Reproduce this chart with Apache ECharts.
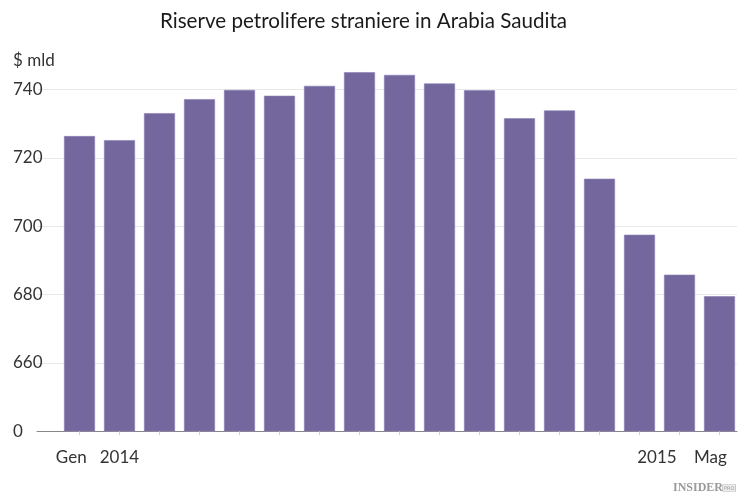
<!DOCTYPE html>
<html>
<head>
<meta charset="utf-8">
<script src="https://cdn.jsdelivr.net/npm/echarts@6/dist/echarts.min.js"></script>
<style>html,body{margin:0;padding:0;background:#fff;}#c{width:750px;height:503px;}</style>
</head>
<body>
<div id="c"></div>
<script>
var categories = ['Gen','Feb','Mar','Apr','Mag','Giu','Lug','Ago','Set','Ott','Nov','Dic','Gen','Feb','Mar','Apr','Mag'];
var reserves = [726.4, 725.2, 733.1, 737.2, 739.9, 738.2, 741.1, 745.1, 744.3, 741.8, 739.8, 731.6, 733.9, 713.9, 697.5, 685.8, 679.5];
var firstLabel = 'Gen   2014';
var lastLabel = '2015    Mag';
var yMin = 640, yMax = 750, yStep = 20;

var FONT = 'Lato';
var chart = echarts.init(document.getElementById('c'), null, {renderer: 'canvas'});
var gTop = 55.45, gBottom = 71.9;
chart.setOption({
  animation: false,
  backgroundColor: '#fff',
  textStyle: {fontFamily: FONT},
  title: [
    {text: 'Riserve petrolifere straniere in Arabia Saudita', left: 155, top: 6,
     textStyle: {fontFamily: FONT, fontSize: 20.6, fontWeight: 'normal', color: '#1a1a1a'}},
    {text: '$ mld', left: 8, top: 47,
     textStyle: {fontFamily: FONT, fontSize: 17, fontWeight: 'normal', color: '#333'}}
  ],
  grid: [
    {left: 59.5, right: 10.5, top: gTop, bottom: gBottom},
    {left: 37, right: 13, top: gTop, bottom: gBottom}
  ],
  xAxis: [
    {type: 'category', gridIndex: 0, data: categories,
     axisLine: {show: false},
     axisTick: {show: true, alignWithLabel: true, interval: 0, length: 4, lineStyle: {color: '#d0d0d0'}},
     axisLabel: {interval: 0, margin: 18, color: '#333', fontSize: 17, fontFamily: FONT,
       formatter: function (v, i) {
         if (i === 0) return '{l|' + firstLabel + '}';
         if (i === categories.length - 1) return '{r|' + lastLabel + '}';
         return '';
       },
       rich: {
         l: {fontSize: 17, fontFamily: FONT, color: '#333', padding: [0, 0, 0, 36]},
         r: {fontSize: 17, fontFamily: FONT, color: '#333', padding: [0, 75, 0, 0]}
       }},
     splitLine: {show: false}},
    {type: 'value', gridIndex: 1, min: 0, max: 1,
     axisLine: {show: true, onZero: false, lineStyle: {color: '#888', width: 1}},
     axisTick: {show: false}, axisLabel: {show: false}, splitLine: {show: false}}
  ],
  yAxis: [
    {type: 'value', gridIndex: 0, min: yMin, max: yMax, show: false, splitLine: {show: false}},
    {type: 'value', gridIndex: 1, min: yMin, max: yMax, interval: yStep,
     axisLine: {show: false}, axisTick: {show: false},
     splitLine: {show: true, showMinLine: false, showMaxLine: false, lineStyle: {color: '#e8e8e8', width: 1}},
     axisLabel: {show: true, showMaxLabel: false, align: 'left', margin: 24, color: '#333', fontSize: 17, fontFamily: FONT,
       formatter: function (v) { return v === yMin ? '0' : String(v); }}}
  ],
  series: [
    {type: 'bar', xAxisIndex: 0, yAxisIndex: 0, data: reserves, barWidth: 31,
     itemStyle: {color: '#73679e', borderColor: '#8a7fb3', borderWidth: 0.6}, z: 3}
  ],
  graphic: [
    {type: 'text', right: 14, bottom: 9,
     style: {text: '{a|INSIDER}{b|PRO}', rich: {
       a: {fontFamily: 'Liberation Serif', fontWeight: 'bold', fontSize: 12, fill: '#9a9a9a'},
       b: {fontFamily: 'DejaVu Sans', fontSize: 5, fill: '#9a9a9a', borderColor: '#b0b0b0', borderWidth: 0.6, padding: [1, 1, 0, 1], backgroundColor: '#eee'}
     }}}
  ]
});
</script>
</body>
</html>
